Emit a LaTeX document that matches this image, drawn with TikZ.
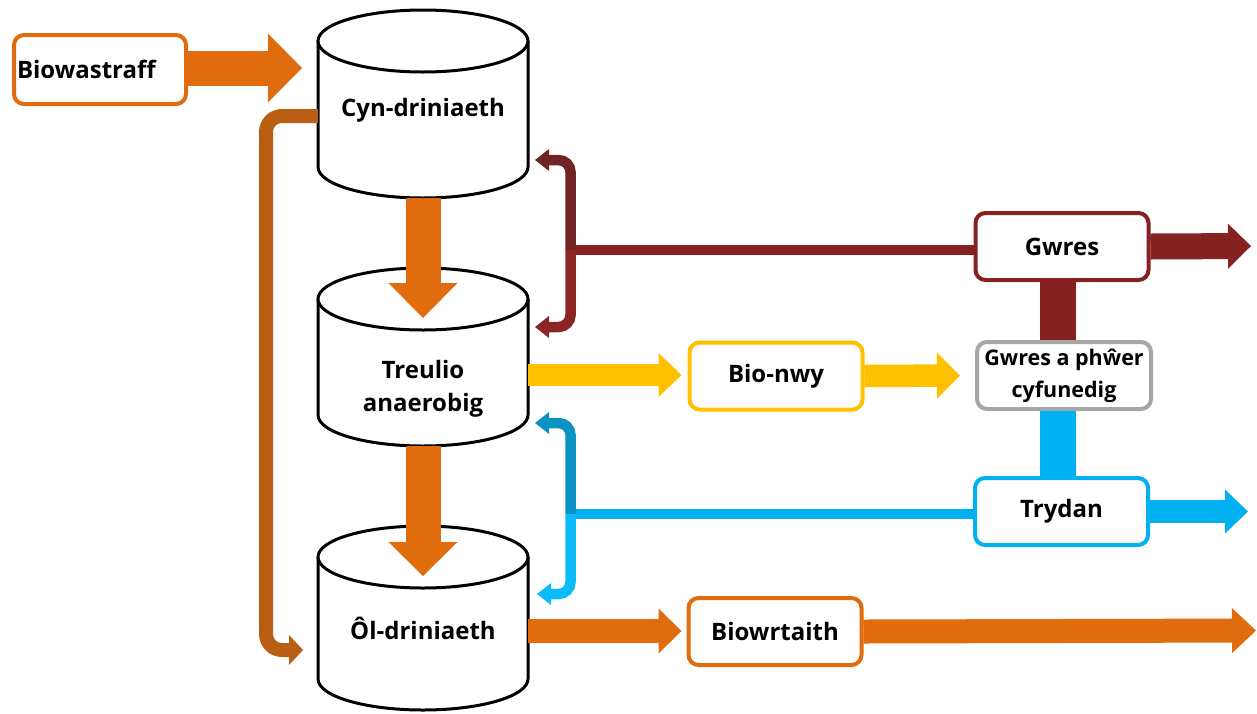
\documentclass[tikz,border=0pt]{standalone}
\usepackage{fontspec}
\setmainfont{Open Sans}
\usetikzlibrary{arrows.meta,calc}
\definecolor{orng}{HTML}{E06C0E}
\definecolor{loopc}{HTML}{B85F14}
\definecolor{marA}{HTML}{722424}
\definecolor{marB}{HTML}{8C2626}
\definecolor{mar}{HTML}{862121}
\definecolor{bluA}{HTML}{0B93C4}
\definecolor{bluB}{HTML}{0ABDFA}
\definecolor{blu}{HTML}{00B0F0}
\definecolor{ylw}{HTML}{FFC000}
\definecolor{gry}{HTML}{A6A6A6}
\newcommand\mycylinder[2]{%
  \fill[white] (318,#1+31) -- (318,#2-31) arc[start angle=180,end angle=0,x radius=105,y radius=31] -- (528,#1+31) -- cycle;
  \draw[cylline] (318,#1+31) -- (318,#2-31) arc[start angle=180,end angle=0,x radius=105,y radius=31] -- (528,#1+31);
  \draw[cylline,fill=white] (423,#1+31) ellipse[x radius=105,y radius=31];
}
\tikzset{
  cylline/.style={line width=3pt,draw=black},
  lbl/.style={font=\bfseries\fontsize{24}{33}\selectfont,align=center,inner sep=0pt},
  box/.style={draw,line width=4pt,rounded corners=10pt,fill=white,inner sep=0pt,
    minimum width=173pt,minimum height=67pt,font=\bfseries\fontsize{24}{30}\selectfont,align=center},
  fatarr/.style n args={3}{line width=#1,-{Triangle[width=#2,length=#3,line width=0pt]}},
  thinarr/.style={line width=10.5pt,rounded corners=12pt,-{Triangle[width=22pt,length=14pt,line width=0pt]}}
}
\begin{document}
\begin{tikzpicture}[x=1pt,y=-1pt]
\useasboundingbox (0,0) rectangle (1257,713);
% cylinders
\mycylinder{10}{198}
\mycylinder{268}{446}
\mycylinder{526}{710}
\node[lbl] (c1) at (423,110) {Cyn-driniaeth};
\node[lbl] (c2) at (423,389) {Treulio\\anaerobig};
\node[lbl] (c3) at (423,628) {Ôl-driniaeth};
% anchor points on cylinders
\coordinate (c1in) at (302,68);
\coordinate (c1bot) at (423,198);
\coordinate (c2tip) at (423,318);
\coordinate (c2bot) at (423,446);
\coordinate (c3tip) at (423,576);
\coordinate (c1left) at (318,116);
\coordinate (c3left) at (303,650);
\coordinate (c2out) at (528,375);
\coordinate (c3out) at (528,631);
\coordinate (hj) at (570.5,250);
\coordinate (ej) at (570.5,514);
% boxes
\node[box,draw=orng,minimum width=172pt,minimum height=69pt,text width=166pt,align=left] (bw) at (100,69.5) {Biowastraff};
\node[box,draw=ylw] (bn) at (776,376) {Bio-nwy};
\node[box,draw=orng] (bt) at (775,631.5) {Biowrtaith};
\node[box,draw=mar] (gw) at (1062,246.5) {Gwres};
\node[box,draw=gry,minimum width=174pt,font=\bfseries\fontsize{21.5}{32}\selectfont] (chp) at (1064,375.5) {Gwres a phŵer\\cyfunedig};
\node[box,draw=blu] (td) at (1061.5,511.5) {Trydan};
% main process arrows
\draw[fatarr={35pt}{69pt}{34pt},draw=orng] (bw.east |- c1in) -- (c1in);
\draw[fatarr={35pt}{69pt}{35pt},draw=orng] (c1bot) -- (c2tip);
\draw[fatarr={35pt}{69pt}{34pt},draw=orng] (c2bot) -- (c3tip);
% loop
\draw[line width=14pt,draw=loopc,rounded corners=16pt,-{Triangle[width=30pt,length=14pt,line width=0pt]}]
  (c1left) -- (266,116) -- (266,650) -- (c3left);
% heat bracket
\draw[line width=10.5pt,draw=mar] (hj) -- (hj -| gw.west);
\draw[thinarr,draw=marA] (hj) -- (570.5,160) -- (535,160);
\draw[thinarr,draw=marB] (hj) -- (570.5,327) -- (535,327);
% electricity bracket
\draw[line width=10.5pt,draw=blu] (ej) -- (ej -| td.west);
\draw[thinarr,draw=bluA] (ej) -- (570.5,423) -- (535,423);
\draw[thinarr,draw=bluB] (ej) -- (570.5,594) -- (537,594);
% biogas
\draw[fatarr={22.5pt}{44pt}{23pt},draw=ylw] (c2out) -- ($(bn.west)+(-6,-1)$);
\draw[fatarr={22.5pt}{46pt}{23pt},draw=ylw] (bn.east) -- ($(chp.west)+(-15,0)$);
% CHP links
\draw[line width=36pt,draw=mar] ($(gw.south)+(-4.5,0)$) -- ($(chp.north)+(-6.5,0)$);
\draw[line width=36pt,draw=blu] ($(chp.south)+(-6.5,0)$) -- ($(td.north)+(-4,0)$);
% outputs
\coordinate (gwout) at (1251,246);
\coordinate (tdout) at (1248,511.5);
\coordinate (btout) at (1256,630.5);
\draw[fatarr={26pt}{45pt}{23pt},draw=mar] (gw.east) -- (gwout);
\draw[fatarr={23.5pt}{44pt}{23pt},draw=blu] (td.east) -- (tdout);
\draw[fatarr={24pt}{45pt}{23pt},draw=orng] (c3out) -- ($(bt.west)+(-5,-0.5)$);
\draw[fatarr={24pt}{45pt}{24pt},draw=orng] (bt.east) -- (btout);
\end{tikzpicture}
\end{document}
